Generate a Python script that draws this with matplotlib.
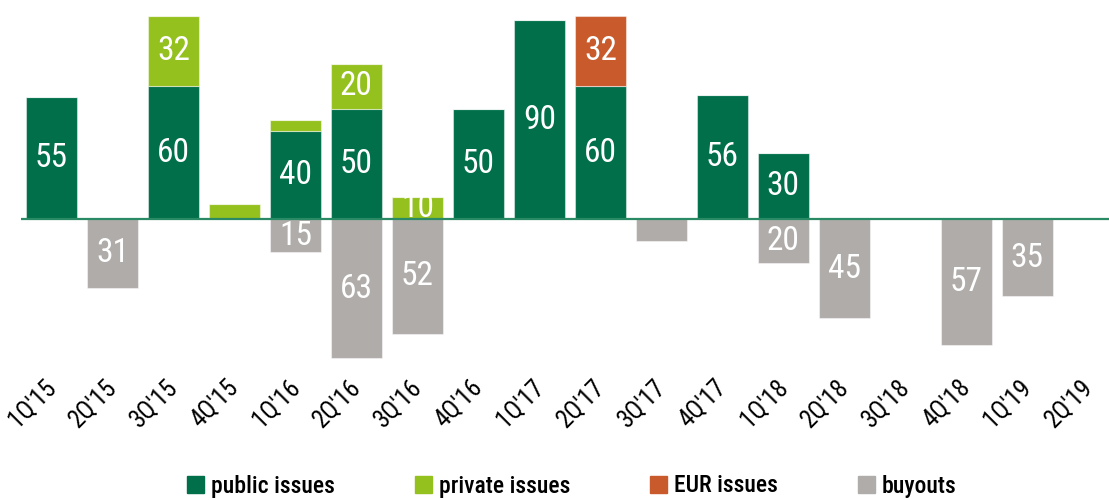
import matplotlib
matplotlib.use("Agg")
import matplotlib.pyplot as plt
from matplotlib import font_manager
from matplotlib.patches import Patch
import numpy as np

# quarters on the x axis
quarters = ["1Q'15", "2Q'15", "3Q'15", "4Q'15", "1Q'16", "2Q'16", "3Q'16", "4Q'16",
            "1Q'17", "2Q'17", "3Q'17", "4Q'17", "1Q'18", "2Q'18", "3Q'18", "4Q'18",
            "1Q'19", "2Q'19"]

# issues (drawn above zero), buyouts (drawn below zero)
public_issues = [55, 0, 60, 0, 40, 50, 0, 50, 90, 60, 0, 56, 30, 0, 0, 0, 0, 0]
private_issues = [0, 0, 32, 7, 5, 20, 10, 0, 0, 0, 0, 0, 0, 0, 0, 0, 0, 0]
eur_issues = [0, 0, 0, 0, 0, 0, 0, 0, 0, 32, 0, 0, 0, 0, 0, 0, 0, 0]
buyouts = [0, 31, 0, 0, 15, 63, 52, 0, 0, 0, 10, 0, 20, 45, 0, 57, 35, 0]

# small segments that carry no number in the chart
unlabeled = {("private", "4Q'15"), ("private", "1Q'16"), ("buyouts", "3Q'17")}

legend_names = ['public issues', 'private issues', 'EUR issues', 'buyouts']

col_public = '#006f4a'
col_private = '#95c11f'
col_eur = '#c95a2b'
col_buyouts = '#b0acaa'
col_axis = '#2a8a66'

# pick a narrow font if one is installed
def pick_font():
    for name in ['Roboto Condensed', 'Liberation Sans Narrow', 'Open Sans Condensed', 'Roboto']:
        try:
            font_manager.findfont(font_manager.FontProperties(family=name), fallback_to_default=False)
            return name
        except Exception:
            pass
    return 'DejaVu Sans'

plt.rcParams['font.family'] = [pick_font(), 'DejaVu Sans']

fig = plt.figure(figsize=(11.09, 5), dpi=100)
ax = fig.add_axes([21 / 1109, 140 / 500, 1088 / 1109, 360 / 500])

x = np.arange(len(quarters))
width = 0.836
pub = np.array(public_issues)
pri = np.array(private_issues)
eur = np.array(eur_issues)
buy = np.array(buyouts)

edge = dict(edgecolor=(1, 1, 1, 0.45), linewidth=0.8)
b_pub = ax.bar(x, pub, width, color=col_public, **edge)
b_pri = ax.bar(x, pri, width, bottom=pub, color=col_private, **edge)
b_eur = ax.bar(x, eur, width, bottom=pub + pri, color=col_eur, **edge)
b_buy = ax.bar(x, -buy, width, color=col_buyouts, **edge)

def labels_for(key, vals):
    out = []
    for q, v in zip(quarters, vals):
        if v == 0 or (key, q) in unlabeled:
            out.append('')
        else:
            out.append(str(v))
    return out

for cont, key, vals in [(b_pub, 'public', public_issues), (b_pri, 'private', private_issues),
                        (b_eur, 'eur', eur_issues), (b_buy, 'buyouts', buyouts)]:
    ax.bar_label(cont, labels=labels_for(key, vals), label_type='center',
                 color='white', fontsize=24)

ax.axhline(0, color=col_axis, linewidth=1.6, zorder=5)

ax.set_xlim(-0.5, 17.34)
ax.set_ylim(-63.8, 99.1)
ax.set_xticks(x)
ax.set_xticklabels(quarters, rotation=45, ha='right', va='center',
                   rotation_mode='anchor', fontsize=18)
ax.tick_params(axis='x', length=0, pad=17)
ax.set_yticks([])
for s in ax.spines.values():
    s.set_visible(False)

handles = [Patch(color=c) for c in [col_public, col_private, col_eur, col_buyouts]]
fig.legend(handles, legend_names, loc='center', bbox_to_anchor=(572 / 1109, 0.028),
           ncol=4, frameon=False, prop={'size': 17, 'weight': 'medium'},
           handlelength=0.7, handleheight=0.7,
           handletextpad=0.3, columnspacing=3.4, borderaxespad=0)

plt.savefig('out.png', dpi=100)
